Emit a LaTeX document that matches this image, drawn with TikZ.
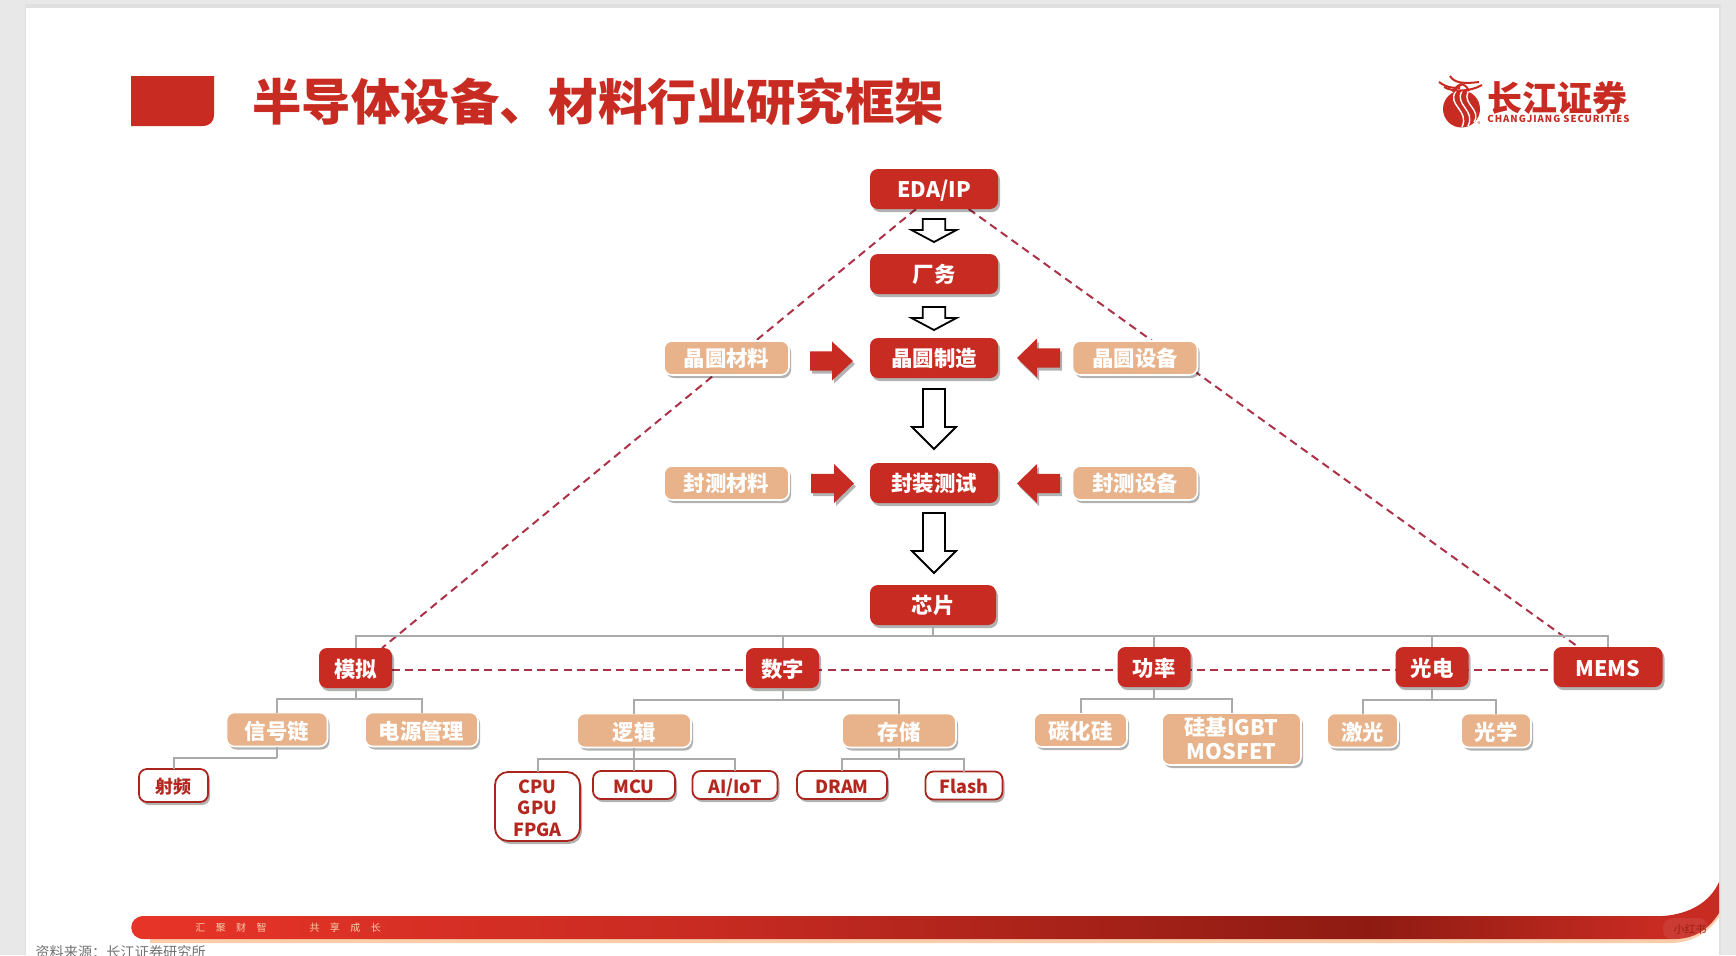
\documentclass[tikz,border=0pt]{standalone}
\usepackage{fontspec}
\setmainfont{Noto Sans CJK SC}
\newfontfamily\cjkheavy{Noto Sans CJK SC Black}
\usepackage{xcolor}
\usepackage{tikz}
\usetikzlibrary{shadows, backgrounds}
\definecolor{CJRed}{RGB}{200,43,34}
\definecolor{CJPeach}{RGB}{232,178,138}
\definecolor{CJDash}{RGB}{172,50,72}
\definecolor{CJLine}{RGB}{170,170,170}
\definecolor{CJPage}{RGB}{232,232,232}
\definecolor{CJDark}{RGB}{142,27,18}
\definecolor{CJBright}{RGB}{232,52,40}
\definecolor{CJSand}{RGB}{250,205,170}
\pgfdeclarehorizontalshading{barshade}{100bp}{
  color(0bp)=(CJBright); color(25bp)=(CJBright); color(43bp)=(CJRed);
  color(64bp)=(CJDark); color(73bp)=(CJRed); color(75bp)=(CJRed); color(100bp)=(CJRed)}
% block arrows: x0, head base, tip, y
\newcommand{\hblock}[4]{\fill[CJRed, sh] (#1,#4-9.7) -- (#2,#4-9.7) -- (#2,#4-19.5) -- (#3,#4)
    -- (#2,#4+19.5) -- (#2,#4+9.7) -- (#1,#4+9.7) -- cycle;}
% block arrows: top, head base, tip, half width of head
\newcommand{\vblock}[4]{\draw[blk] (934-#4/2,#1) -- (934+#4/2,#1) -- (934+#4/2,#2) -- (934+#4,#2)
    -- (934,#3) -- (934-#4,#2) -- (934-#4/2,#2) -- cycle;}
\begin{document}
\begin{tikzpicture}[
          x=0.5pt, y=-0.5pt,
          sh/.style={drop shadow={shadow xshift=1pt, shadow yshift=-1.5pt,
                     opacity=0.3, fill=black}},
          nb/.style={rectangle, rounded corners=4pt, outer sep=0pt, inner sep=0pt,
                     align=center, font=\fontsize{10.7}{12}\selectfont\bfseries, sh,
                     text height=8.2pt, text depth=0.2pt},
          rb/.style={nb, fill=CJRed, text=white, minimum width=64pt, minimum height=20pt},
          pb/.style={nb, fill=CJPeach, draw=white, line width=0.8pt, text=white,
                     minimum height=17pt},
          wb/.style={nb, fill=white, draw=CJRed!85!black, line width=0.9pt, text=CJRed!90!black,
                     minimum height=14pt, font=\fontsize{9}{10.8}\selectfont\bfseries,
                     text height=8.6pt},
          lowtxt/.style={text height=10pt},
          conn/.style={draw=CJLine, line width=1pt},
          dl/.style={draw=CJDash, line width=1pt, dash pattern=on 4pt off 2.6pt},
          blk/.style={fill=white, draw=black, line width=0.9pt}
        ]
        \useasboundingbox (0,0) rectangle (1736,955);

        % Page
        \begin{scope}[on background layer]
          \fill[CJPage] (0,0) rectangle (1736,955);
          \fill[black!12] (25,4) rectangle (1721,955);
          \fill[white] (26,8) rectangle (1719,955);
        \end{scope}

        % Title
        \fill[CJRed] (131,76) -- (214,76) -- (214,114)
              .. controls (214,122) and (210,126) .. (202,126) -- (131,126) -- cycle;
        \node[font=\fontsize{24.7}{30}\selectfont\cjkheavy, text=CJRed, anchor=west,
              inner sep=0pt] (title) at (252,102) {半导体设备、材料行业研究框架};

        % Logo
        \fill[CJRed] (1461.5,109) circle (18.5);
        \draw[white, line width=0.7pt] (1456,91) .. controls (1446,105) and (1470,110) .. (1462,127);
        \draw[white, line width=0.7pt] (1462,91) .. controls (1454,105) and (1476,110) .. (1468,126);
        \draw[white, line width=0.7pt] (1468,92) .. controls (1462,104) and (1482,110) .. (1474,122);
        \draw[CJRed, line width=1pt] (1439,82) .. controls (1447,88) and (1454,88) .. (1460,88);
        \draw[CJRed, line width=1pt] (1450,76) .. controls (1454,83) and (1464,84) .. (1479,82);
        \draw[CJRed, line width=1pt] (1444,87) .. controls (1452,92) and (1470,92) .. (1482,85);
        \draw[CJRed, line width=1.4pt] (1453,92) .. controls (1455,88) and (1458,86) .. (1462,84);
        \draw[CJRed, line width=1pt] (1469,91) .. controls (1468,88) and (1466,86) .. (1462,84);
        \node[font=\fontsize{3}{3}\selectfont, text=CJRed, inner sep=0pt] (reg) at (1479,124) {®};
        \node[font=\fontsize{17.5}{20}\selectfont\bfseries, text=CJRed, anchor=west,
              inner sep=0pt] (cjname) at (1487,97.5) {长江证券};
        \node[font=\fontsize{4.8}{6}\selectfont\bfseries\addfontfeatures{LetterSpace=10},
              text=CJRed, anchor=west, inner sep=0pt] (cjsub) at (1487,118.5) {CHANGJIANG SECURITIES};

        % Top chain
        \node[rb] (eda)   at (934,189) {EDA/IP};
        \node[rb] (fab)   at (934,274) {厂务};
        \node[rb] (wafer) at (934,358) {晶圆制造};
        \node[rb] (pack)  at (934,483) {封装测试};
        \node[rb, minimum width=63pt] (chip) at (933,605) {芯片};

        \node[pb, minimum width=62.5pt] (wmat) at (726.5,358) {晶圆材料};
        \node[pb, minimum width=62.5pt] (weqp) at (1135,358)  {晶圆设备};
        \node[pb, minimum width=62.5pt] (pmat) at (726.5,483) {封测材料};
        \node[pb, minimum width=62.5pt] (peqp) at (1135,483)  {封测设备};

        % Arrows
        \vblock{219}{230}{242}{22.5}
        \vblock{307}{318}{330}{22.5}
        \vblock{389}{427}{449}{22}
        \vblock{513}{551}{573}{22}
        \hblock{810}{832}{853}{361}
        \hblock{1060}{1037}{1017}{358}
        \hblock{811}{834}{854}{483.5}
        \hblock{1060}{1037}{1017}{483.5}

        % Second level
        \node[rb, lowtxt, minimum width=36.5pt] (moni) at (355.5,668) {模拟};
        \node[rb, lowtxt, minimum width=36.5pt] (digi) at (782.5,668) {数字};
        \node[rb, lowtxt, minimum width=36.5pt] (powr) at (1154,667)  {功率};
        \node[rb, lowtxt, minimum width=36.5pt] (opto) at (1432,667)  {光电};
        \node[rb, lowtxt, minimum width=54.5pt] (mems) at (1608,667)  {MEMS};

        % Third level
        \node[pb, lowtxt, minimum width=50.5pt] (sign) at (277,729.5)   {信号链};
        \node[pb, lowtxt, minimum width=56.5pt] (pmgt) at (421.5,729.5) {电源管理};
        \node[pb, lowtxt, minimum width=57pt]   (logi) at (634,730.5)   {逻辑};
        \node[pb, lowtxt, minimum width=57pt]   (stor) at (899,730.5)   {存储};
        \node[pb, lowtxt, minimum width=46.5pt] (sic)  at (1080.5,730)  {碳化硅};
        \node[pb, minimum width=69.5pt, minimum height=26pt, text height=20.8pt]
              (igbt) at (1231.5,739) {硅基IGBT\\MOSFET};
        \node[pb, lowtxt, minimum width=35.5pt] (lasr) at (1362.5,730.5) {激光};
        \node[pb, lowtxt, minimum width=35pt]   (opti) at (1496,730.5)   {光学};

        % Fourth level
        \node[wb, minimum width=34.5pt, minimum height=16.5pt] (rf)  at (173.5,785.5) {射频};
        \node[wb, minimum width=42.5pt, minimum height=34.5pt, rounded corners=6.5pt,
              text height=30pt] (cpu) at (537.5,806.5) {CPU\\GPU\\FPGA};
        \node[wb, minimum width=41pt]   (mcu)   at (634,785)    {MCU};
        \node[wb, minimum width=42.5pt] (aiot)  at (735,785)    {AI/IoT};
        \node[wb, minimum width=45pt]   (dram)  at (842,785)    {DRAM};
        \node[wb, minimum width=38.5pt] (flash) at (964,785.5)  {Flash};

        % Tree
        \coordinate (bus)  at (933,636);
        \coordinate (mbus) at (355.5,699);
        \coordinate (dbus) at (782.5,700);
        \coordinate (pbus) at (1154,699);
        \coordinate (obus) at (1432,700);
        \coordinate (sbus) at (277,758);
        \coordinate (lbus) at (634,759);
        \coordinate (tbus) at (899,759);
        \coordinate (dashy) at (0,669.5);

        \draw[conn] (chip) -- (bus);
        \draw[conn] (bus) -| (moni.north);
        \draw[conn] (bus) -| (digi.north);
        \draw[conn] (bus) -| (powr.north);
        \draw[conn] (bus) -| (opto.north);
        \draw[conn] (bus) -| (mems.north);
        \draw[conn] (moni) -- (mbus);
        \draw[conn] (mbus) -| (sign.north);
        \draw[conn] (mbus) -| (pmgt.north);
        \draw[conn] (digi) -- (dbus);
        \draw[conn] (dbus) -| (logi.north);
        \draw[conn] (dbus) -| (stor.north);
        \draw[conn] (powr) -- (pbus);
        \draw[conn] (pbus) -| (sic.north);
        \draw[conn] (pbus) -| (igbt.north);
        \draw[conn] (opto) -- (obus);
        \draw[conn] (obus) -| (lasr.north);
        \draw[conn] (obus) -| (opti.north);
        \draw[conn] (sign) -- (sbus);
        \draw[conn] (sbus) -| (rf.north);
        \draw[conn] (logi) -- (lbus);
        \draw[conn] (lbus) -| (cpu.north);
        \draw[conn] (lbus) -| (mcu.north);
        \draw[conn] (lbus) -| (aiot.north);
        \draw[conn] (stor) -- (tbus);
        \draw[conn] (tbus) -| (dram.north);
        \draw[conn] (tbus) -| (flash.north);

        % Dashed links
        \begin{scope}[on background layer]
          \draw[dl] (eda.228) -- (moni.37);
          \draw[dl] (eda.330) -- (mems.146);
          \draw[dl] (moni.east |- dashy) -- (mems.west |- dashy);
        \end{scope}

        % Footer
        \fill[CJSand] (150,922) -- (1670,922)
              .. controls (1695,922) and (1712,905) .. (1719,890) -- (1719,917)
              .. controls (1708,933) and (1692,943) .. (1670,943) -- (150,943) -- cycle;
        \shade[shading=barshade] (144,916) -- (1663,916)
              .. controls (1690,914) and (1710,902) .. (1719,882) -- (1719,913)
              .. controls (1708,930) and (1695,938) .. (1677,939) -- (144,939)
              .. controls (127,939) and (127,916) .. (144,916) -- cycle;
        \node[font=\fontsize{5}{6}\selectfont, text=CJSand, anchor=west, inner sep=0pt]
              (motto) at (195,928)
              {汇\hspace{5.2pt}聚\hspace{5.2pt}财\hspace{5.2pt}智\hspace{21.5pt}共\hspace{5.2pt}享\hspace{5.2pt}成\hspace{5.2pt}长};
        \fill[white, opacity=0.08, rounded corners=5pt] (1663,918) rectangle (1708,940);
        \node[font=\fontsize{5.5}{6}\selectfont, text=CJDark!80!CJRed, inner sep=0pt] (mark) at (1690,929) {小红书};
        \node[font=\fontsize{7.1}{9}\selectfont, text=black!55, anchor=west, inner sep=0pt]
              (source) at (35,952) {资料来源：长江证券研究所};
      \end{tikzpicture}
\end{document}
